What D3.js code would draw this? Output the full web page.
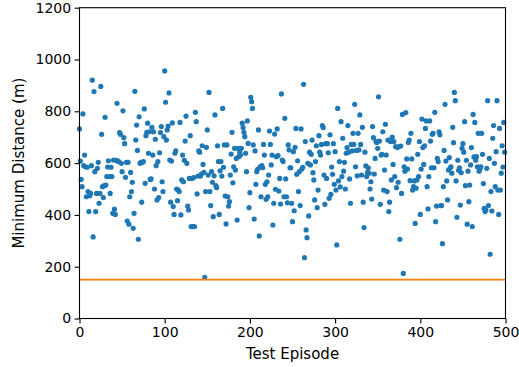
<!DOCTYPE html>
<html>
<head>
<meta charset="utf-8">
<script src="https://cdn.jsdelivr.net/npm/d3@7"></script>
<style>
  html, body { margin: 0; padding: 0; background: #fff; }
  svg { display: block; font-family: "DejaVu Sans", sans-serif; }
</style>
</head>
<body>
<svg id="chart" width="519" height="367"></svg>
<script>
// Minimum distance per test episode (episodes 0..499)
const distances = [
  732,608,537,509,790,590,631,586,470,584,490,413,474,483,590,920,315,876,567,413,
  483,580,603,445,483,896,711,509,467,513,777,515,548,585,609,548,483,584,548,406,
  612,422,402,611,831,608,606,718,711,599,567,802,698,675,545,603,376,603,364,470,
  564,490,526,348,406,877,689,747,649,306,779,599,603,449,603,606,809,522,706,719,
  754,638,721,537,
  539,738,631,721,500,692,590,458,606,467,640,718,741,528,490,702,956,835,689,728,
  743,871,612,449,608,755,432,402,638,647,500,455,496,490,757,400,535,631,528,611,
  685,781,599,434,419,541,706,355,541,355,544,355,796,760,481,550,647,642,550,558,
  667,595,564,159,490,661,728,554,873,490,436,567,526,393,551,786,513,505,667,606,
  402,570,
  606,550,811,584,670,473,365,670,470,434,451,554,635,719,524,586,657,573,618,380,
  657,625,642,631,657,754,737,719,702,638,567,763,676,428,486,854,837,811,670,384,
  647,518,567,576,728,319,586,470,590,582,672,631,518,460,528,470,554,724,672,593,
  631,361,445,712,499,625,732,629,492,541,442,867,612,606,470,773,539,470,447,670,
  651,582,
  582,445,374,644,416,661,734,557,609,490,567,436,732,577,584,904,235,683,342,312,
  599,396,642,593,634,689,563,535,458,606,667,428,496,706,642,631,672,745,737,554,
  441,675,541,675,640,464,709,479,585,557,675,518,644,496,284,811,531,606,508,760,
  548,696,569,603,500,638,660,745,642,539,445,672,647,715,672,827,586,649,551,715,
  651,786,672,
  554,738,449,351,642,589,548,564,582,561,500,528,461,741,698,558,618,683,680,657,
  856,685,441,631,634,721,496,573,750,631,490,689,413,449,683,535,700,595,683,548,
  664,505,660,526,664,306,666,483,788,174,586,569,795,616,577,680,689,532,715,616,
  496,509,531,367,503,535,634,548,683,402,577,770,660,595,667,734,763,509,423,548,
  763,685,582,711,
  715,582,796,374,434,618,606,721,709,436,436,289,509,649,827,608,531,458,573,621,
  582,586,561,738,679,873,841,531,391,611,572,582,438,563,657,675,642,760,513,611,
  364,569,451,515,593,660,355,788,624,757,611,625,586,715,569,577,586,715,634,521,
  425,413,419,580,841,436,618,248,490,415,696,745,599,509,644,841,496,402,734,496,
  561,667,585,757,642
];
const episodes = d3.range(distances.length);
const threshold = [150];
const xTicks = [0, 100, 200, 300, 400, 500];
const yTicks = [0, 200, 400, 600, 800, 1000, 1200];
const xLabel = "Test Episode";
const yLabel = "Minimum Distance (m)";

(function () {
  const svg = d3.select("#chart");
  const pL = 79.5, pR = 505.5, pT = 7.7, pB = 318.5;
  const tickFs = "14px", labelFs = "15px";
  const x = d3.scaleLinear().domain([0, 500]).range([pL, pR]);
  const y = d3.scaleLinear().domain([0, 1200]).range([pB, pT]);

  // points
  svg.append("g")
    .selectAll("circle")
    .data(episodes)
    .join("circle")
    .attr("cx", d => x(d))
    .attr("cy", d => y(distances[d]))
    .attr("r", 2.6)
    .attr("fill", "#1f77b4");

  // threshold line
  svg.append("g")
    .selectAll("line")
    .data(threshold)
    .join("line")
    .attr("x1", x(0)).attr("x2", x(500))
    .attr("y1", d => y(d)).attr("y2", d => y(d))
    .attr("stroke", "#ff7f0e")
    .attr("stroke-width", 1.6);

  // axes
  const xAxis = svg.append("g")
    .attr("transform", `translate(0,${pB})`)
    .call(d3.axisBottom(x).tickValues(xTicks).tickFormat(d3.format("d")).tickSize(4.9).tickPadding(3.5).tickSizeOuter(0));
  const yAxis = svg.append("g")
    .attr("transform", `translate(${pL},0)`)
    .call(d3.axisLeft(y).tickValues(yTicks).tickFormat(d3.format("d")).tickSize(4.9).tickPadding(3.5).tickSizeOuter(0));
  [xAxis, yAxis].forEach(a => {
    a.select(".domain").remove();
    a.selectAll("line").attr("stroke", "#000").attr("stroke-width", 1.1);
    a.selectAll("text").attr("fill", "#000").style("font-size", tickFs).style("font-family", "DejaVu Sans");
  });

  // frame (spines)
  svg.append("rect")
    .attr("x", pL).attr("y", pT)
    .attr("width", pR - pL).attr("height", pB - pT)
    .attr("fill", "none").attr("stroke", "#000").attr("stroke-width", 1.1);

  // labels
  svg.append("text")
    .attr("x", (pL + pR) / 2).attr("y", 358.5)
    .attr("text-anchor", "middle")
    .style("font-size", labelFs)
    .text(xLabel);
  svg.append("text")
    .attr("transform", `translate(24,${(pT + pB) / 2}) rotate(-90)`)
    .attr("text-anchor", "middle")
    .style("font-size", labelFs)
    .text(yLabel);
})();
</script>
</body>
</html>
